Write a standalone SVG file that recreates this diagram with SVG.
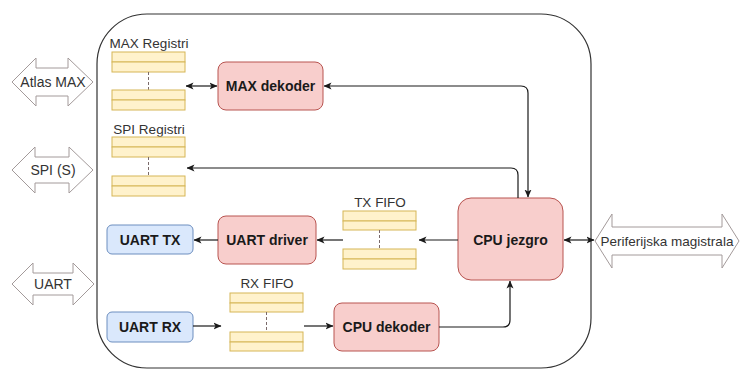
<svg xmlns="http://www.w3.org/2000/svg" width="740" height="369" viewBox="0 0 740 369">
<style>
text{font-family:"Liberation Sans",Arial,sans-serif;}
.lbl{font-size:13.5px;fill:#333;text-anchor:middle;}
.nt{font-size:14px;font-weight:bold;fill:#1a1a1a;text-anchor:middle;}
.red{fill:#f8cecc;stroke:#b85450;stroke-width:1;}
.blue{fill:#dae8fc;stroke:#6c8ebf;stroke-width:1;}
.reg{fill:#fff2cc;stroke:#d6b656;stroke-width:1;}
.dash{stroke:#7a6a6a;stroke-width:1;stroke-dasharray:3 2;fill:none;}
.flex{fill:#fff;stroke:#a39a9a;stroke-width:1;}
.edge{fill:none;stroke:#1a1a1a;stroke-width:1.2;}
</style>
<defs>
<marker id="arr" viewBox="0 0 8 8" refX="7.5" refY="4" markerWidth="8" markerHeight="8" markerUnits="userSpaceOnUse" orient="auto-start-reverse">
<path d="M0,0.5 L8,4 L0,7.5 L2,4 z" fill="#1a1a1a"/>
</marker>
</defs>
<rect width="740" height="369" fill="#fff"/>
<rect id="container" x="97" y="14" width="494" height="354" rx="50" ry="50" fill="#fff" stroke="#333" stroke-width="1.2"/>

<g id="atlas-max">
<polygon class="flex" points="12,82 36,58 36,68 68,68 68,58 93,82 68,106 68,96 36,96 36,106"/>
<text class="lbl" x="53" y="87" style="font-size:14px">Atlas MAX</text>
</g>
<g id="spi-s">
<polygon class="flex" points="12,170 35,147 35,157 69,157 69,147 93,170 69,193 69,183 35,183 35,193"/>
<text class="lbl" x="53" y="175" style="font-size:14px">SPI (S)</text>
</g>
<g id="uart">
<polygon class="flex" points="12,284 33,263 33,273 73,273 73,263 94,284 73,305 73,295 33,295 33,305"/>
<text class="lbl" x="53" y="289" style="font-size:14px">UART</text>
</g>
<g id="periferijska">
<polygon class="flex" points="595,241 612,214 612,227 722,227 722,214 739,241 722,268 722,255 612,255 612,268"/>
<text class="lbl" x="667" y="246">Periferijska magistrala</text>
</g>

<g id="max-registri">
<text class="lbl" x="149" y="48">MAX Registri</text>
<rect class="reg" x="112" y="52" width="73" height="10"/>
<rect class="reg" x="112" y="62" width="73" height="10"/>
<line class="dash" x1="148.5" y1="72" x2="148.5" y2="90"/>
<rect class="reg" x="112" y="90" width="73" height="10"/>
<rect class="reg" x="112" y="100" width="73" height="10"/>
</g>
<g id="spi-registri">
<text class="lbl" x="149" y="134">SPI Registri</text>
<rect class="reg" x="112" y="137" width="73" height="10"/>
<rect class="reg" x="112" y="147" width="73" height="10"/>
<line class="dash" x1="148.5" y1="157" x2="148.5" y2="176"/>
<rect class="reg" x="112" y="176" width="73" height="10"/>
<rect class="reg" x="112" y="186" width="73" height="10"/>
</g>
<g id="tx-fifo">
<text class="lbl" x="380" y="207">TX FIFO</text>
<rect class="reg" x="343" y="211" width="73" height="10"/>
<rect class="reg" x="343" y="221" width="73" height="9"/>
<line class="dash" x1="379.5" y1="230" x2="379.5" y2="249"/>
<rect class="reg" x="343" y="249" width="73" height="10"/>
<rect class="reg" x="343" y="259" width="73" height="10"/>
</g>
<g id="rx-fifo">
<text class="lbl" x="267" y="288">RX FIFO</text>
<rect class="reg" x="230" y="293" width="73" height="10"/>
<rect class="reg" x="230" y="303" width="73" height="9"/>
<line class="dash" x1="266.5" y1="312" x2="266.5" y2="332"/>
<rect class="reg" x="230" y="332" width="73" height="10"/>
<rect class="reg" x="230" y="342" width="73" height="9"/>
</g>

<g id="max-dekoder">
<rect class="red" x="218" y="62" width="105" height="48" rx="8"/>
<text class="nt" x="270.5" y="91">MAX dekoder</text>
</g>
<g id="cpu-jezgro">
<rect class="red" x="458" y="198" width="105" height="82" rx="13"/>
<text class="nt" x="510.5" y="245">CPU jezgro</text>
</g>
<g id="uart-driver">
<rect class="red" x="218" y="216" width="98" height="48" rx="8"/>
<text class="nt" x="267" y="245">UART driver</text>
</g>
<g id="cpu-dekoder">
<rect class="red" x="334" y="303" width="105" height="48" rx="8"/>
<text class="nt" x="386.5" y="332">CPU dekoder</text>
</g>
<g id="uart-tx">
<rect class="blue" x="107" y="225" width="86" height="29" rx="5"/>
<text class="nt" x="150" y="244.5">UART TX</text>
</g>
<g id="uart-rx">
<rect class="blue" x="107" y="312" width="86" height="30" rx="5"/>
<text class="nt" x="150" y="332">UART RX</text>
</g>

<g id="connectors">
<path class="edge" d="M186,86 H217" marker-start="url(#arr)" marker-end="url(#arr)"/>
<path class="edge" d="M324,86 H521 Q528,86 528,93 V197" marker-start="url(#arr)" marker-end="url(#arr)"/>
<path class="edge" d="M518,198 V175 Q518,168 511,168 H187" marker-end="url(#arr)"/>
<path class="edge" d="M458,240 H419" marker-end="url(#arr)"/>
<path class="edge" d="M343,240 H317" marker-end="url(#arr)"/>
<path class="edge" d="M218,240 H194" marker-end="url(#arr)"/>
<path class="edge" d="M193,326 H221" marker-end="url(#arr)"/>
<path class="edge" d="M304,326 H333" marker-end="url(#arr)"/>
<path class="edge" d="M439,327 H503 Q510,327 510,320 V281" marker-end="url(#arr)"/>
<path class="edge" d="M564,240 H594" marker-start="url(#arr)" marker-end="url(#arr)"/>
</g>
</svg>
